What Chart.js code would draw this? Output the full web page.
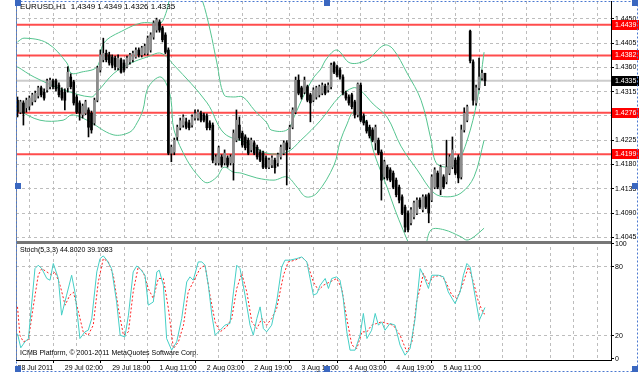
<!DOCTYPE html>
<html>
<head>
<meta charset="utf-8">
<script src="https://cdn.jsdelivr.net/npm/chart.js@4.4.1/dist/chart.umd.min.js"></script>
<style>
	html, body { margin: 0; padding: 0; background: #fff; }
	#painel { position: relative; width: 643px; height: 386px; }
</style>
</head>
<body>
<div id="painel"><canvas id="grafico" width="643" height="386"></canvas></div>
<script>
// EURUSD H1 candles, bar 0 = 28 Jul 10:00
var open = [1.4299,1.4277,1.4294,1.4285,1.4288,1.4296,1.4299,1.4307,1.4322,1.4314,1.4318,1.4324,1.4335,1.4335,1.4327,1.4318,1.4314,1.4322,1.4342,1.4333,
	1.4305,1.4294,1.4272,1.4275,1.4281,1.4275,1.4257,1.4299,1.4355,1.4374,1.4386,1.4383,1.4379,1.4377,1.4359,1.4374,1.4368,1.4361,1.4370,1.4374,
	1.4379,1.4392,1.4383,1.4386,1.4386,1.4392,1.4416,1.4429,1.4444,1.4433,1.4420,1.4392,1.4201,1.4203,1.4231,1.4248,1.4253,1.4259,1.4257,1.4253,
	1.4266,1.4266,1.4275,1.4272,1.4270,1.4257,1.4253,1.4183,1.4183,1.4194,1.4183,1.4192,1.4183,1.4183,1.4225,1.4253,1.4238,1.4231,1.4225,1.4207,
	1.4220,1.4212,1.4203,1.4201,1.4192,1.4175,1.4179,1.4188,1.4183,1.4194,1.4201,1.4220,1.4212,1.4249,1.4277,1.4336,1.4322,1.4314,1.4324,1.4309,
	1.4299,1.4305,1.4309,1.4312,1.4325,1.4318,1.4324,1.4368,1.4361,1.4355,1.4342,1.4312,1.4305,1.4309,1.4296,1.4272,1.4327,1.4270,1.4259,1.4249,
	1.4244,1.4220,1.4225,1.4203,1.4157,1.4175,1.4170,1.4164,1.4151,1.4138,1.4120,1.4101,1.4090,1.4072,1.4083,1.4090,1.4114,1.4096,1.4120,1.4124,
	1.4114,1.4138,1.4164,1.4133,1.4157,1.4148,1.4164,1.4175,1.4188,1.4194,1.4157,1.4244,1.4262,1.4427,1.4370,1.4294,1.4322,1.4340,1.4349];
var high = [1.4305,1.4299,1.4298,1.4303,1.4307,1.4312,1.4316,1.4325,1.4325,1.4320,1.4338,1.4340,1.4338,1.4338,1.4331,1.4322,1.4320,1.4361,1.4348,1.4336,
	1.4309,1.4298,1.4292,1.4299,1.4285,1.4279,1.4303,1.4362,1.4392,1.4414,1.4392,1.4388,1.4383,1.4381,1.4383,1.4377,1.4374,1.4381,1.4386,1.4390,
	1.4396,1.4396,1.4399,1.4403,1.4418,1.4424,1.4446,1.4451,1.4448,1.4436,1.4424,1.4396,1.4216,1.4229,1.4253,1.4266,1.4272,1.4266,1.4262,1.4272,
	1.4281,1.4281,1.4279,1.4275,1.4274,1.4261,1.4257,1.4198,1.4214,1.4198,1.4207,1.4196,1.4198,1.4244,1.4281,1.4268,1.4242,1.4235,1.4229,1.4229,
	1.4224,1.4216,1.4207,1.4205,1.4196,1.4192,1.4196,1.4192,1.4201,1.4216,1.4224,1.4224,1.4253,1.4285,1.4342,1.4346,1.4325,1.4342,1.4327,1.4312,
	1.4322,1.4325,1.4327,1.4331,1.4329,1.4331,1.4368,1.4370,1.4364,1.4359,1.4346,1.4316,1.4309,1.4312,1.4299,1.4331,1.4331,1.4274,1.4262,1.4253,
	1.4248,1.4253,1.4229,1.4207,1.4188,1.4179,1.4174,1.4168,1.4155,1.4142,1.4124,1.4105,1.4094,1.4100,1.4112,1.4118,1.4118,1.4124,1.4124,1.4127,
	1.4161,1.4174,1.4168,1.4179,1.4161,1.4225,1.4198,1.4231,1.4192,1.4198,1.4253,1.4285,1.4290,1.4429,1.4374,1.4327,1.4377,1.4355,1.4349];
var low = [1.4268,1.4274,1.4253,1.4277,1.4281,1.4290,1.4296,1.4303,1.4305,1.4299,1.4314,1.4320,1.4320,1.4316,1.4305,1.4299,1.4281,1.4314,1.4320,1.4290,
	1.4274,1.4262,1.4266,1.4272,1.4231,1.4238,1.4253,1.4296,1.4351,1.4370,1.4370,1.4364,1.4359,1.4355,1.4355,1.4349,1.4351,1.4359,1.4366,1.4370,
	1.4377,1.4379,1.4379,1.4383,1.4383,1.4388,1.4412,1.4425,1.4425,1.4407,1.4385,1.4198,1.4185,1.4198,1.4225,1.4244,1.4249,1.4246,1.4244,1.4249,
	1.4262,1.4262,1.4259,1.4259,1.4244,1.4244,1.4183,1.4179,1.4179,1.4175,1.4179,1.4175,1.4179,1.4151,1.4222,1.4225,1.4212,1.4207,1.4198,1.4203,
	1.4198,1.4190,1.4185,1.4172,1.4172,1.4172,1.4174,1.4164,1.4177,1.4190,1.4198,1.4142,1.4209,1.4246,1.4274,1.4309,1.4301,1.4311,1.4296,1.4259,
	1.4296,1.4301,1.4305,1.4309,1.4309,1.4314,1.4320,1.4348,1.4342,1.4338,1.4309,1.4299,1.4290,1.4283,1.4266,1.4268,1.4259,1.4253,1.4238,1.4229,
	1.4222,1.4207,1.4198,1.4114,1.4153,1.4151,1.4148,1.4135,1.4120,1.4109,1.4087,1.4055,1.4055,1.4068,1.4079,1.4087,1.4098,1.4092,1.4098,1.4072,
	1.4111,1.4135,1.4135,1.4124,1.4135,1.4144,1.4161,1.4172,1.4161,1.4146,1.4153,1.4240,1.4259,1.4368,1.4290,1.4290,1.4318,1.4336,1.4326];
var close = [1.4277,1.4296,1.4275,1.4299,1.4303,1.4309,1.4312,1.4322,1.4309,1.4303,1.4335,1.4336,1.4324,1.4320,1.4309,1.4303,1.4299,1.4351,1.4324,1.4294,
	1.4277,1.4275,1.4288,1.4296,1.4249,1.4244,1.4299,1.4359,1.4383,1.4386,1.4374,1.4368,1.4364,1.4361,1.4377,1.4351,1.4355,1.4377,1.4383,1.4386,
	1.4392,1.4383,1.4396,1.4399,1.4414,1.4420,1.4442,1.4448,1.4429,1.4411,1.4388,1.4201,1.4212,1.4225,1.4249,1.4261,1.4268,1.4249,1.4248,1.4268,
	1.4274,1.4277,1.4262,1.4262,1.4248,1.4248,1.4188,1.4194,1.4211,1.4179,1.4201,1.4179,1.4194,1.4238,1.4262,1.4229,1.4216,1.4211,1.4201,1.4225,
	1.4201,1.4194,1.4188,1.4175,1.4175,1.4188,1.4192,1.4174,1.4198,1.4212,1.4220,1.4207,1.4249,1.4281,1.4336,1.4312,1.4305,1.4336,1.4299,1.4294,
	1.4318,1.4322,1.4324,1.4327,1.4312,1.4327,1.4364,1.4351,1.4346,1.4342,1.4312,1.4303,1.4294,1.4287,1.4272,1.4329,1.4262,1.4257,1.4242,1.4233,
	1.4225,1.4249,1.4201,1.4151,1.4185,1.4155,1.4151,1.4138,1.4124,1.4114,1.4090,1.4064,1.4059,1.4096,1.4109,1.4114,1.4101,1.4120,1.4101,1.4090,
	1.4157,1.4170,1.4138,1.4175,1.4138,1.4175,1.4194,1.4207,1.4164,1.4155,1.4244,1.4275,1.4287,1.4372,1.4299,1.4322,1.4342,1.4349,1.4335];

// Bollinger bands: [bar, price]
var bbUpper = [[0,1.4407],[2.2,1.4414],[10,1.4405],[16.7,1.4368],[18.1,1.4349],[21.5,1.4351],[26.9,1.4361],[29.2,1.4405],[36,1.4429],[41.8,1.4442],
	[46.1,1.4442],[48.5,1.4442],[50.5,1.4466],[52,1.4499],[55,1.4525],[58,1.4522],[61,1.4494],[62.4,1.4485],[65.1,1.4429],[67.4,1.4368],
	[69.8,1.4309],[72.9,1.4305],[76.2,1.4305],[80,1.4281],[84.3,1.4257],[85.7,1.4244],[91.1,1.4244],[93.8,1.4272],[96.5,1.4305],[100.2,1.4342],
	[102.3,1.4355],[104.6,1.4377],[108,1.4392],[112.4,1.4368],[118.2,1.4374],[123.9,1.4401],[126.9,1.4394],[131.7,1.4349],[136.4,1.4299],[139.8,1.4225],
	[141.5,1.4183],[145.2,1.4175],[148.6,1.4183],[152,1.4225],[155.4,1.4299],[157.7,1.4388]];
var bbMiddle = [[0,1.4361],[5.6,1.4342],[15.7,1.4318],[24.9,1.4305],[26.9,1.4314],[32.6,1.4349],[38.4,1.4368],[43.8,1.4379],[48.5,1.4386],[52.9,1.4364],
	[64.1,1.4294],[69.8,1.4238],[77.6,1.4220],[84.3,1.4201],[91.1,1.4203],[95.8,1.4225],[102.5,1.4262],[108.7,1.4305],[113.4,1.4322],[115.8,1.4318],
	[120.2,1.4292],[124.9,1.4268],[129.6,1.4214],[135.1,1.4170],[140.8,1.4127],[145.2,1.4120],[149.9,1.4127],[154.3,1.4157],[157.7,1.4225]];
var bbLower = [[0,1.4281],[7.6,1.4262],[15.4,1.4262],[18.4,1.4272],[23.5,1.4262],[32.3,1.4235],[38,1.4240],[40.4,1.4257],[42.4,1.4281],[43.8,1.4318],
	[46.1,1.4336],[48.5,1.4342],[50.5,1.4327],[51.9,1.4299],[52.9,1.4244],[57.3,1.4188],[61.7,1.4155],[64.1,1.4146],[67.4,1.4157],[69.8,1.4175],
	[72.9,1.4166],[75.6,1.4164],[80.9,1.4155],[86.7,1.4151],[91.1,1.4157],[94.5,1.4138],[97.5,1.4120],[101.2,1.4127],[107,1.4179],[109,1.4222],
	[111.4,1.4255],[113.4,1.4277],[115.8,1.4272],[118.2,1.4253],[120.2,1.4207],[122.6,1.4170],[124.9,1.4138],[127.6,1.4096],[130.3,1.4059],[132.6,1.4031],
	[135,1.4018],[137.5,1.4025],[139.8,1.4059],[144.2,1.4059],[149.9,1.4046],[151.9,1.4040],[154.3,1.4046],[157.7,1.4062]];

// Stochastic (5,3,3): [bar, value]
var stochK = [[0,22],[1.1,9.7],[2.5,14.9],[3.7,17.8],[5.9,78.6],[7,81.5],[8.2,78.6],[9.9,70],[11,68.5],[12.1,83],[13.8,70],[14.9,38.1],[16.6,55.5],
	[18.3,72.8],[19.4,58.3],[21.1,17.8],[22.8,23.6],[23.9,25],[25.1,35.2],[26.8,75.7],[27.9,87.3],[29,89.6],[30.2,85.9],[31.8,78.6],[33.5,49.6],
	[34.7,20.7],[36.3,19.2],[37.5,38.1],[39.1,75.7],[40.3,80.9],[41.4,78.6],[43.1,72.8],[44.2,46.8],[45.9,49.6],[47.1,75.7],[47.9,77.2],[49.3,64.1],
	[50.4,17.8],[52.1,7.7],[53.8,14.9],[55.5,35.2],[57.2,67],[58.3,71.4],[59.4,68.5],[61.1,84.4],[62.3,84.4],[63.4,81.5],[64.5,64.1],[65.7,38.1],
	[66.8,20.7],[68.5,25],[70.1,29.4],[71.8,30.9],[73,58.3],[74.1,81.5],[75.2,78.6],[76.9,55.5],[78.6,29.4],[79.7,20.7],[80.9,35.2],[82,45.3],
	[83.1,26.5],[84.2,23.6],[85.9,29.4],[87.6,49.6],[89.3,80],[90.4,85.9],[92.1,85.9],[94.4,87.3],[96.1,88.7],[97.8,84.4],[98.9,70],[100,55.5],
	[101.2,56.9],[102.3,64.1],[104,70],[105.1,61.3],[106.2,70],[107.9,71.4],[109,68.5],[110.1,52.6],[111.3,23.6],[112.4,7.7],[114.1,7.7],[115.8,20.7],
	[116.9,39.6],[118.1,17.8],[119.7,25],[120.9,39.6],[122,29.4],[123.1,32.3],[124.2,25],[125.9,30.9],[127.6,29.4],[129.3,12.1],[131,3.3],[132.7,9.1],
	[134.4,35.2],[136.1,78.6],[137.2,72.8],[138.9,61.3],[140,72.8],[142.3,72.8],[144,71.4],[145.6,58.3],[147.9,48.2],[149.6,58.3],[150.7,72.8],
	[151.9,83],[153,80],[154.6,55.5],[156.1,33.7],[158,44.8]];
var stochD = [[0,45.3],[0.8,20.7],[2,14.9],[3.7,17],[5.3,45],[7,72.8],[8.2,78.6],[9.9,75.7],[11.6,73],[12.7,75.7],[14.4,64.1],[16.1,46.8],[17.7,55.5],
	[18.9,58],[20.6,41],[22.2,23.6],[23.9,20.7],[25.6,29.4],[27.3,67],[29,87.3],[30.7,84.4],[32.4,72.8],[34.1,43.9],[35.8,20.7],[37.5,23.6],[39.1,58.3],
	[40.8,80],[42.5,75.7],[44.2,61.3],[45.9,52.6],[47.6,70],[49.3,70],[51,43.9],[52.7,9.1],[54.4,14.9],[56.1,29.4],[57.7,58.3],[59.4,67],[61.7,78.6],
	[63.4,81.5],[65.1,55],[66.8,32],[68.5,23.6],[70.7,27.9],[72.4,35.2],[74.1,61.3],[75.8,74.3],[77.5,58.3],[79.2,32.3],[80.9,26.5],[82.6,35.2],
	[84.2,29.4],[85.9,35.2],[87.6,43.9],[89.9,72.8],[91.5,84.4],[93.8,85.9],[96.1,88.7],[97.8,84.4],[100,67],[101.7,59.8],[103.4,64.1],[105.6,67],
	[107.9,70],[109.6,61.3],[111.3,35.2],[113,12.1],[114.7,9.1],[116.4,23.6],[118.1,23.6],[119.7,29.4],[121.4,30.9],[123.1,32.3],[124.8,30.9],[127,29.4],
	[129.3,20.7],[131.6,6.2],[133.3,14.9],[134.9,49.6],[136.1,62],[137.2,74.3],[138.9,65.6],[140.6,71.4],[142.8,72.8],[144.5,68.5],[146.8,55.5],
	[148.5,52.6],[150.2,62.7],[152.4,80],[154.1,67],[155.8,49.6],[157.5,39.6],[158,39.1]];

var timeLabels = ['28 Jul 2011', '29 Jul 02:00', '29 Jul 18:00', '1 Aug 11:00', '2 Aug 03:00', '2 Aug 19:00', '3 Aug 11:00', '4 Aug 03:00', '4 Aug 19:00', '5 Aug 11:00'];
var priceTicks = [1.4045, 1.4090, 1.4135, 1.4180, 1.4225, 1.4270, 1.4315, 1.4360, 1.4405, 1.4450];
var stochTicks = [0, 20, 80, 100];
var levels = [1.4439, 1.4382, 1.4276, 1.4199];
var bid = 1.4335;

var fonte = '"Liberation Sans", Arial, sans-serif';
Chart.defaults.font.family = fonte;
Chart.defaults.font.size = 7;
Chart.defaults.color = '#000';

var xMin = -0.507, xMax = 200.6;
var gridBars = [];
for (var g = 0; g <= 200; g += 8) gridBars.push(g);

function pares(lista) {
	return lista.map(function(p) { return {x: p[0], y: p[1]}; });
}

function horizontal(v) {
	return [{x: xMin, y: v}, {x: xMax, y: v}];
}

var decoracao = {
	id: 'decoracao',
	beforeDatasetDraw: function(chart, args) {
		var s = chart.scales[args.meta.yAxisID], a = chart.chartArea, ctx = chart.ctx;
		ctx.save();
		ctx.beginPath();
		ctx.rect(a.left, s.top, a.right - a.left, s.bottom - s.top);
		ctx.clip();
	},
	afterDatasetDraw: function(chart) {
		chart.ctx.restore();
	},
	afterDraw: function(chart) {
		var ctx = chart.ctx, a = chart.chartArea, y = chart.scales.y;
		ctx.save();
		// separator between panels
		ctx.fillStyle = '#777';
		ctx.fillRect(a.left, y.bottom - 1, a.right - a.left, 3);
		ctx.fillStyle = '#888';
		ctx.fillRect(a.left, a.top, 1, a.bottom - a.top);

		ctx.textBaseline = 'middle';
		ctx.textAlign = 'left';
		ctx.fillStyle = '#000';
		ctx.font = '8px ' + fonte;
		ctx.fillText('EURUSD,H1  1.4349 1.4349 1.4326 1.4335', 20, 7);
		ctx.font = '7px ' + fonte;
		ctx.fillText('Stoch(5,3,3) 44.8020 39.1083', 20, 250);
		ctx.fillText('ICMB Platform, \u00a9 2001-2011 MetaQuotes Software Corp.', 20, 353);

		levels.forEach(function(v) {
			var py = Math.round(y.getPixelForValue(v));
			ctx.fillStyle = '#ff0000';
			ctx.fillRect(612, py - 5, 27, 10);
			ctx.fillStyle = '#fff';
			ctx.fillText(v.toFixed(4), 615, py);
		});
		var pb = Math.round(y.getPixelForValue(bid));
		ctx.fillStyle = '#000';
		ctx.fillRect(612, pb - 5, 27, 10);
		ctx.fillStyle = '#fff';
		ctx.fillText(bid.toFixed(4), 615, pb);

		// selection frame of the chart window
		ctx.strokeStyle = '#4a78d0';
		ctx.lineWidth = 1;
		ctx.setLineDash([2, 2]);
		ctx.strokeRect(16.5, 1.5, 621, 370);
		ctx.setLineDash([]);
		ctx.fillStyle = '#3a67c0';
		[[18, 3], [327, 3], [635, 3], [18, 186], [635, 186], [18, 369], [327, 369], [635, 369]].forEach(function(p) {
			ctx.fillRect(p[0] - 3, p[1] - 3, 6, 6);
		});
		ctx.restore();
	}
};

var corpoCor = open.map(function(o, i) { return close[i] > o ? '#8c8c8c' : '#000'; });

var datasets = [
	{
		type: 'line', label: 'bid', yAxisID: 'y', order: 10,
		data: horizontal(bid), borderColor: '#cccccc', borderWidth: 2, pointRadius: 0
	}
];
levels.forEach(function(v) {
	datasets.push({
		type: 'line', label: 'nivel ' + v, yAxisID: 'y', order: 9,
		data: horizontal(v), borderColor: 'rgba(255,0,0,0.7)', borderWidth: 2, pointRadius: 0
	});
});
[bbUpper, bbMiddle, bbLower].forEach(function(banda) {
	datasets.push({
		type: 'line', label: 'bollinger', yAxisID: 'y', order: 5, data: pares(banda),
		borderColor: '#55c48f', borderWidth: 1, pointRadius: 0, tension: 0.35
	});
});
datasets.push(
	{
		label: 'wick', yAxisID: 'y', order: 3, grouped: false, barThickness: 1,
		data: low.map(function(l, i) { return {x: i, y: [l, high[i]]}; }),
		backgroundColor: '#000'
	},
	{
		label: 'body', yAxisID: 'y', order: 2, grouped: false, barThickness: 2, minBarLength: 1,
		data: open.map(function(o, i) { return {x: i, y: [o, close[i]]}; }),
		backgroundColor: corpoCor
	},
	{
		type: 'line', label: '%K', yAxisID: 'y2', order: 1, data: pares(stochK),
		borderColor: '#45cfc6', borderWidth: 1, pointRadius: 0, tension: 0
	},
	{
		type: 'line', label: '%D', yAxisID: 'y2', order: 1, data: pares(stochD),
		borderColor: '#ff2020', borderWidth: 1, borderDash: [2, 2], pointRadius: 0, tension: 0
	}
);

new Chart(document.getElementById('grafico').getContext('2d'), {
	type: 'bar',
	data: { datasets: datasets },
	options: {
		responsive: false,
		animation: false,
		events: [],
		layout: { padding: { left: 16, top: 1, right: 0, bottom: 12 } },
		plugins: { legend: { display: false }, tooltip: { enabled: false } },
		scales: {
			x: {
				type: 'linear', min: xMin, max: xMax, offset: false,
				afterBuildTicks: function(s) { s.ticks = gridBars.map(function(v) { return {value: v}; }); },
				afterFit: function(s) { s.height = 14; s.paddingLeft = 0; s.paddingRight = 0; },
				ticks: {
					autoSkip: false, maxRotation: 0, align: 'start', padding: 1,
					callback: function(v) { return v % 16 === 0 ? (timeLabels[v / 16] || '') : ''; }
				},
				grid: {
					color: '#bdbdbd', tickLength: 3,
					tickColor: function(c) { return c.tick && c.tick.value % 16 === 0 && c.tick.value <= 144 ? '#000' : 'rgba(0,0,0,0)'; }
				},
				border: { color: '#000', dash: [3, 3] }
			},
			y: {
				type: 'linear', position: 'right', stack: 'paineis', stackWeight: 241, weight: 0,
				min: 1.40364, max: 1.44828,
				afterBuildTicks: function(s) { s.ticks = priceTicks.map(function(v) { return {value: v}; }); },
				afterFit: function(s) { s.width = 32; s.paddingTop = 0; s.paddingBottom = 0; },
				ticks: { padding: 1, callback: function(v) { return v.toFixed(4); } },
				grid: { color: '#bdbdbd', tickColor: '#000', tickLength: 3 },
				border: { color: '#000', dash: [3, 3] }
			},
			y2: {
				type: 'linear', position: 'right', stack: 'paineis', stackWeight: 118, weight: 1,
				min: -0.87, max: 101.7,
				afterBuildTicks: function(s) { s.ticks = stochTicks.map(function(v) { return {value: v}; }); },
				afterFit: function(s) { s.width = 32; s.paddingTop = 0; s.paddingBottom = 0; },
				ticks: { padding: 1 },
				grid: {
					tickColor: '#000', tickLength: 3,
					color: function(c) { return c.tick && (c.tick.value === 20 || c.tick.value === 80) ? '#bdbdbd' : 'rgba(0,0,0,0)'; }
				},
				border: { color: '#000', dash: [3, 3] }
			}
		}
	},
	plugins: [decoracao]
});
</script>
</body>
</html>
